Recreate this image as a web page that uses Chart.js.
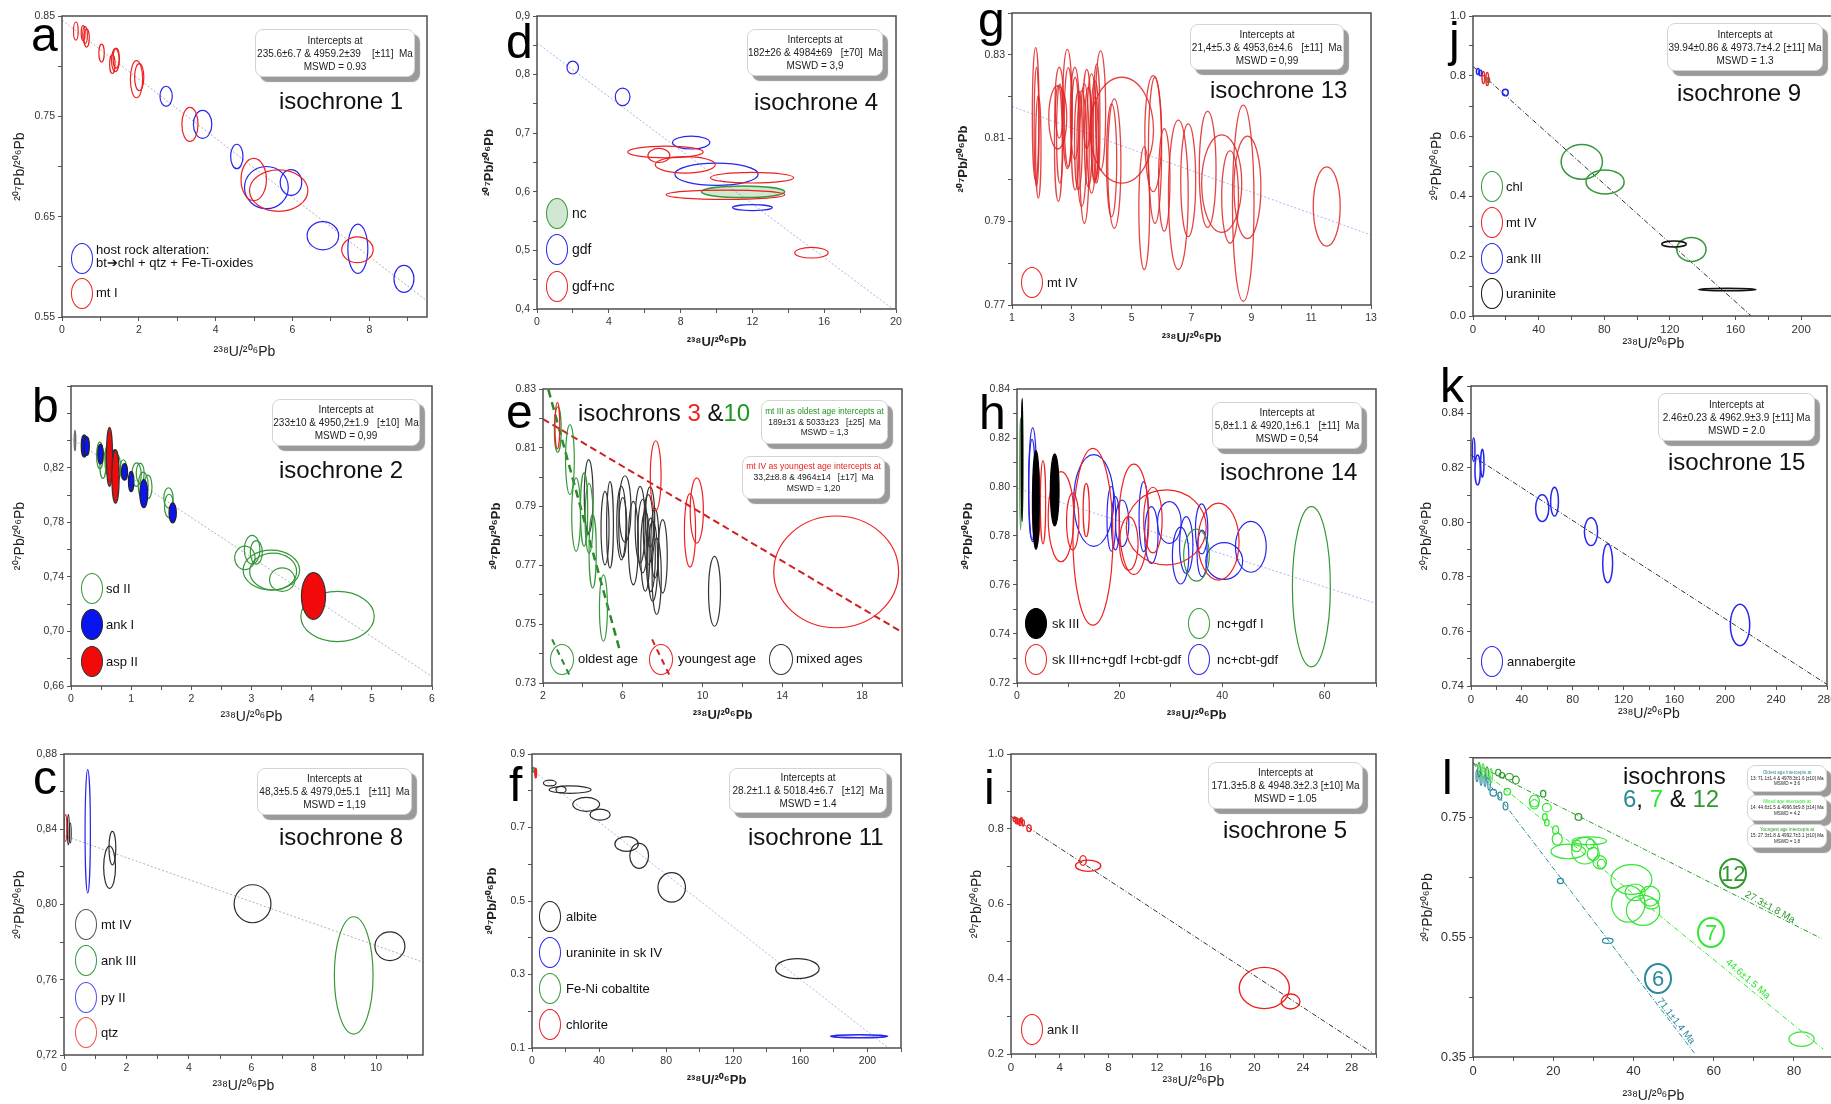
<!DOCTYPE html>
<html lang="en">
<head>
<meta charset="UTF-8">
<title>U-Pb isochrones</title>
<script src="https://cdn.jsdelivr.net/npm/chart.js"></script>
<style>
  html, body { margin: 0; padding: 0; background: #fff; overflow: hidden; }
  #page { position: relative; width: 1831px; height: 1104px; overflow: hidden; font-family: "Liberation Sans", Arial, sans-serif; color: #111; }
  #page canvas { position: absolute; }
  .lbl { position: absolute; white-space: pre; }
  .box { position: absolute; box-sizing: border-box; background: #fff; border: 1px solid #d4d4d4; border-radius: 8px;
         box-shadow: 5px 5px 1px #9a9a9a; text-align: center; color: #222; white-space: pre;
         display: flex; flex-direction: column; justify-content: center; }
  .leg { position: absolute; box-sizing: border-box; border-radius: 50%; }
</style>
</head>
<body>
<div id="page"></div>
<script>
// ---- data: [238U/206Pb, 207Pb/206Pb, error x, error y] ----
// a  isochrone 1
const a_host = [[2.71,0.770,0.16,0.0100],[3.66,0.742,0.24,0.0140],[4.55,0.710,0.16,0.0122],[5.32,0.679,0.57,0.0210],
  [5.96,0.684,0.28,0.0128],[6.79,0.631,0.41,0.0140],[7.70,0.618,0.26,0.0245],[8.90,0.588,0.26,0.0135]];
const a_mtI = [[0.36,0.835,0.06,0.0090],[0.55,0.833,0.05,0.0075],[0.60,0.831,0.06,0.0085],[0.64,0.828,0.07,0.0090],
  [1.03,0.813,0.07,0.0090],[1.31,0.802,0.07,0.0093],[1.39,0.806,0.10,0.0115],[1.41,0.808,0.08,0.0100],
  [1.94,0.787,0.16,0.0185],[2.01,0.789,0.12,0.0135],[3.33,0.742,0.21,0.0170],[4.99,0.687,0.33,0.0210],
  [5.64,0.676,0.76,0.0207],[7.69,0.617,0.41,0.0128]];
const a_iso = [[0,0.846],[9.5,0.566]];
// d  isochrone 4
const d_nc = [[11.48,0.600,2.32,0.010]];
const d_gdf = [[1.99,0.812,0.32,0.011],[4.77,0.762,0.41,0.015],[8.59,0.684,1.04,0.011],[10.0,0.630,2.32,0.019],[12.0,0.573,1.11,0.005]];
const d_gdfnc = [[7.16,0.668,2.10,0.010],[6.79,0.662,0.61,0.012],[8.26,0.646,1.67,0.014],[11.98,0.624,2.32,0.009],
  [10.50,0.595,3.30,0.008],[15.29,0.496,0.93,0.009]];
const d_iso = [[0,0.854],[20,0.396]];
// g  isochrone 13
const g_mtIV = [[1.79,0.8158,0.11,0.0159],[1.88,0.8079,0.09,0.0123],[1.82,0.8127,0.08,0.0143],[2.53,0.8150,0.30,0.0076],
  [2.55,0.8087,0.13,0.0139],[2.60,0.8111,0.11,0.0119],[2.58,0.8185,0.14,0.0085],[2.85,0.8170,0.16,0.0143],
  [2.88,0.8150,0.13,0.0119],[3.11,0.8111,0.13,0.0135],[3.10,0.8160,0.15,0.0110],[3.22,0.8095,0.13,0.0119],
  [3.33,0.8075,0.16,0.0139],[3.42,0.8063,0.16,0.0167],[3.50,0.8170,0.12,0.0095],[3.55,0.8103,0.13,0.0119],
  [3.66,0.8111,0.16,0.0143],[3.77,0.8119,0.13,0.0119],[3.83,0.8135,0.11,0.0143],[3.96,0.8166,0.17,0.0143],
  [3.77,0.8095,0.11,0.0103],[4.67,0.8119,1.06,0.0127],[4.33,0.8047,0.17,0.0135],[4.42,0.8039,0.22,0.0155],
  [5.42,0.7932,0.18,0.0147],[5.72,0.8111,0.28,0.0139],[5.78,0.8071,0.22,0.0175],[6.09,0.8000,0.19,0.0123],
  [6.56,0.7964,0.33,0.0179],[6.89,0.7999,0.25,0.0135],[7.54,0.8025,0.28,0.0139],[8.01,0.7991,0.67,0.0117],
  [8.29,0.7959,0.28,0.0111],[8.73,0.7944,0.36,0.0235],[8.87,0.7982,0.45,0.0123],[11.52,0.7936,0.45,0.0095]];
const g_iso = [[1,0.8176],[13,0.7868]];
// j  isochrone 9
const j_chl = [[66.3,0.514,12.6,0.058],[80.5,0.447,11.6,0.040],[133.1,0.222,8.9,0.040],[9.3,0.786,0.8,0.008]];
const j_mtIV = [[6.3,0.795,0.8,0.020],[8.7,0.790,0.8,0.022]];
const j_ank = [[19.7,0.745,1.8,0.011],[3.0,0.815,0.9,0.010],[4.5,0.810,0.9,0.009]];
const j_uran = [[122.5,0.240,7.5,0.010],[155.0,0.088,17.4,0.004]];
const j_iso = [[0,0.832],[169.6,0]];
// b  isochrone 2
const b_sd = [[0.48,0.829,0.055,0.0098],[0.53,0.822,0.05,0.0098],[0.62,0.826,0.055,0.0110],[0.76,0.820,0.066,0.0098],
  [0.87,0.819,0.055,0.0069],[1.09,0.815,0.077,0.0086],[1.15,0.816,0.066,0.0074],[1.20,0.807,0.083,0.0098],
  [1.28,0.806,0.066,0.0086],[1.62,0.798,0.077,0.0074],[1.63,0.792,0.077,0.0086],[2.89,0.754,0.17,0.0086],
  [3.01,0.760,0.13,0.0105],[3.08,0.758,0.10,0.0086],[3.33,0.745,0.47,0.0147],[3.36,0.744,0.39,0.0135],
  [3.51,0.738,0.21,0.0086],[4.43,0.711,0.61,0.0184]];
const b_ank = [[0.22,0.836,0.05,0.0081],[0.26,0.836,0.045,0.0069],[0.49,0.830,0.045,0.0074],[0.73,0.826,0.045,0.0074],
  [0.89,0.817,0.05,0.0061],[1.00,0.810,0.045,0.0074],[1.21,0.801,0.066,0.0103],[1.69,0.787,0.061,0.0074]];
const b_asp = [[0.64,0.828,0.05,0.0216],[0.74,0.8136,0.06,0.0196],[4.03,0.726,0.20,0.0172]];
const b_other = [[0.066,0.840,0.01,0.0075]];
const b_iso = [[0,0.8418],[6,0.667]];
// e  isochrons 3 & 10
const e_old = [[2.74,0.8162,0.17,0.0077],[3.35,0.8060,0.22,0.0119],[3.66,0.7873,0.22,0.0125],[4.06,0.7890,0.18,0.0125],
  [4.31,0.7860,0.20,0.0119],[4.49,0.7748,0.18,0.0125],[5.03,0.7555,0.20,0.0113]];
const e_young = [[2.72,0.8175,0.12,0.0079],[7.65,0.8005,0.27,0.0119],[9.37,0.7819,0.28,0.0125],[9.71,0.7887,0.33,0.0111],
  [16.70,0.7678,3.13,0.0190]];
const e_mixed = [[4.29,0.7935,0.22,0.0125],[5.11,0.7827,0.20,0.0125],[5.36,0.7838,0.17,0.0147],[5.93,0.7844,0.23,0.0125],
  [6.11,0.7892,0.30,0.0113],[6.00,0.7829,0.20,0.0102],[6.53,0.7776,0.25,0.0142],[6.87,0.7839,0.25,0.0130],
  [7.00,0.7800,0.25,0.0125],[7.13,0.7748,0.23,0.0136],[7.28,0.7822,0.25,0.0119],[7.40,0.7736,0.23,0.0125],
  [7.50,0.7714,0.25,0.0136],[7.61,0.7776,0.20,0.0119],[7.70,0.7663,0.23,0.0130],[7.37,0.7865,0.23,0.0102],
  [8.00,0.7731,0.23,0.0125],[10.60,0.7612,0.30,0.0119]];
const e_oldLine = [[2.27,0.8298],[5.86,0.7408]];
const e_youngLine = [[2.0,0.8198],[20.0,0.7473]];
// h  isochrone 14
const h_cbt = [[3.06,0.8009,0.78,0.0232],[2.93,0.7989,0.65,0.0205],[14.96,0.7945,3.9,0.0187],[18.4,0.7870,0.85,0.0132],
  [19.2,0.7852,0.78,0.0109],[20.5,0.7852,1.3,0.0095],[24.7,0.7879,0.9,0.0143],[26.2,0.7804,1.3,0.0116],
  [29.7,0.7855,2.3,0.0085],[31.9,0.7720,1.6,0.0116],[33.0,0.7763,1.3,0.0116],[36.0,0.7829,1.2,0.0102],
  [36.1,0.7729,1.0,0.0095],[40.4,0.7698,3.6,0.0075],[45.6,0.7756,3.0,0.0104]];
const h_mix = [[3.77,0.7934,0.78,0.0170],[5.07,0.7938,0.52,0.0170],[8.58,0.7879,2.5,0.0184],[10.86,0.7859,1.2,0.0116],
  [13.5,0.7906,0.6,0.0109],[14.8,0.7797,3.9,0.0361],[22.8,0.7868,2.9,0.0225],[21.8,0.7770,1.8,0.0109],
  [26.5,0.7865,1.8,0.0134],[29.1,0.7835,7.8,0.0153],[39.3,0.7777,4.0,0.0157]];
const h_ncgdf = [[35.0,0.7722,2.5,0.0106],[57.4,0.7593,3.7,0.0327],[0.7,0.8053,0.12,0.0229]];
const h_sk = [[3.70,0.7947,0.65,0.0202],[7.35,0.7988,0.85,0.0147],[1.0,0.8110,0.15,0.0252]];
const h_iso = [[0,0.7995],[70,0.7525]];
// k  isochrone 15
const k_ann = [[2.1,0.8266,1.0,0.0043],[5.2,0.8192,2.1,0.0055],[8.9,0.8217,1.3,0.0051],[56.0,0.8052,5.2,0.0049],
  [65.7,0.8076,3.1,0.0053],[94.4,0.7966,5.2,0.0051],[107.5,0.7850,3.9,0.0071],[211.6,0.7624,7.6,0.0076]];
const k_iso = [[0,0.8247],[280,0.7406]];
// c  isochrone 8
const c_mtIV = [[0.14,0.8398,0.03,0.0080],[0.20,0.8380,0.03,0.0053],[1.55,0.8300,0.11,0.0089],[1.46,0.8198,0.19,0.0112],
  [6.04,0.8004,0.59,0.0101],[10.44,0.7778,0.48,0.0076]];
const c_ank = [[9.28,0.7623,0.62,0.0312]];
const c_py = [[0.76,0.8389,0.085,0.0328]];
const c_qtz = [[0.05,0.8407,0.04,0.0071]];
const c_iso = [[0,0.8366],[11.5,0.7694]];
// f  isochrone 11
const f_albite = [[10.6,0.821,3.8,0.008],[17.3,0.803,3.0,0.009],[22.7,0.803,12.5,0.010],[32.3,0.763,8.0,0.019],
  [40.6,0.735,6.0,0.015],[56.4,0.655,7.0,0.020],[63.9,0.623,5.6,0.034],[83.3,0.537,8.2,0.040],[158.2,0.316,13.0,0.027]];
const f_uran = [[195.0,0.132,17.0,0.004]];
const f_cob = [[0.8,0.857,0.6,0.006]];
const f_chl = [[2.2,0.848,0.4,0.013]];
const f_iso = [[0,0.857],[212.5,0.1]];
// i  isochrone 5
const i_ank = [[0.30,0.826,0.12,0.006],[0.45,0.822,0.10,0.008],[0.60,0.820,0.12,0.007],[0.75,0.818,0.10,0.009],
  [0.85,0.823,0.08,0.007],[1.00,0.816,0.10,0.008],[1.48,0.802,0.18,0.009],[5.92,0.716,0.27,0.013],
  [6.34,0.702,1.04,0.015],[20.82,0.376,2.06,0.055],[22.98,0.340,0.77,0.020]];
const i_iso = [[0,0.834],[29.65,0.2044]];
// l  isochrons 6, 7 & 12
const l_6 = [[5.07,0.7916,0.83,0.0055],[6.70,0.7861,0.50,0.0066],[8.10,0.7695,0.58,0.0066],[21.8,0.6440,0.75,0.0044],
  [33.6,0.5443,1.33,0.0044],[1.0,0.820,0.25,0.010],[2.0,0.815,0.25,0.011],[3.0,0.812,0.25,0.010],[4.0,0.806,0.30,0.010]];
const l_7 = [[8.55,0.7933,0.83,0.0055],[15.3,0.7778,1.25,0.0100],[15.3,0.7722,1.1,0.0078],[18.4,0.7667,1.1,0.0072],
  [17.9,0.7511,0.58,0.0055],[18.4,0.7417,0.58,0.0055],[20.6,0.7295,0.75,0.0066],[21.0,0.7140,1.25,0.0100],
  [23.75,0.6935,4.3,0.0122],[25.8,0.7030,1.25,0.0100],[29.0,0.7113,4.3,0.0066],[27.9,0.6947,3.3,0.0222],
  [29.2,0.7058,1.0,0.0083],[30.0,0.6891,1.5,0.0111],[31.6,0.6753,1.66,0.0111],[32.0,0.6725,1.0,0.0083],
  [39.5,0.6466,5.1,0.0250],[38.7,0.6058,4.15,0.0305],[40.4,0.6252,2.5,0.0139],[42.4,0.5950,4.15,0.0250],
  [44.1,0.6188,2.5,0.0166],[44.5,0.6058,1.83,0.0083],[81.9,0.3799,3.15,0.0122],[2.5,0.828,0.3,0.012],[4.5,0.820,0.3,0.012]];
const l_12 = [[6.3,0.8254,0.66,0.0055],[7.2,0.8210,0.66,0.0044],[9.05,0.8183,1.0,0.0055],[10.7,0.8128,0.83,0.0066],
  [17.5,0.7900,0.66,0.0055],[26.3,0.7511,0.83,0.0055],[1.5,0.830,0.3,0.012],[3.5,0.825,0.3,0.010]];
const l_line6 = [[0,0.8414],[55.3,0.3556]];
const l_line7 = [[0,0.8414],[87.3,0.3633]];
const l_line12 = [[0,0.8414],[86.9,0.5478]];

const FONT = '"Liberation Sans", Arial, sans-serif';
const RED = '#ee2020', BLUE = '#2626ee', GREEN = '#36983a', BLACK = '#2a2a2a';
const TEAL = '#2a8a9a', LIME = '#33e633', DKGREEN = '#2e9a2e';
Chart.defaults.font.family = FONT;

const page = document.getElementById('page');

// error ellipses drawn through the chart's own scales
const ELLIPSES = {
  id: 'ellipses',
  afterDatasetsDraw(chart) {
    const {ctx, chartArea: ca, scales: {x, y}} = chart;
    ctx.save();
    ctx.beginPath();
    ctx.rect(ca.left, ca.top, ca.right - ca.left, ca.bottom - ca.top);
    ctx.clip();
    chart.data.datasets.forEach(ds => {
      if (!ds.ellipse) return;
      ds.data.forEach(d => {
        const cx = x.getPixelForValue(d.x), cy = y.getPixelForValue(d.y);
        const rx = Math.max(Math.abs(x.getPixelForValue(d.x + d.ex) - cx), 0.8);
        const ry = Math.max(Math.abs(y.getPixelForValue(d.y + d.ey) - cy), 0.8);
        ctx.beginPath();
        ctx.ellipse(cx, cy, rx, ry, 0, 0, Math.PI * 2);
        if (ds.ellFill) { ctx.fillStyle = ds.ellFill; ctx.fill(); }
        ctx.lineWidth = ds.ellWidth || 1.2;
        ctx.strokeStyle = ds.ellStroke;
        ctx.stroke();
      });
    });
    ctx.restore();
  }
};

const FRAME = {
  id: 'frame',
  afterDraw(chart) {
    const {ctx, chartArea: a} = chart;
    ctx.save();
    ctx.strokeStyle = '#4d4d4d';
    ctx.lineWidth = 1.5;
    ctx.strokeRect(a.left, a.top, a.right - a.left, a.bottom - a.top);
    ctx.restore();
  }
};

const ell = (rows, stroke, opt) => Object.assign({
  data: rows.map(r => ({x: r[0], y: r[1], ex: r[2], ey: r[3]})),
  ellipse: true, ellStroke: stroke, pointRadius: 0, pointHoverRadius: 0, showLine: false
}, opt || {});
const iso = (rows, color, dash, width) => ({
  data: rows.map(r => ({x: r[0], y: r[1]})),
  showLine: true, pointRadius: 0, pointHoverRadius: 0, borderColor: color,
  borderWidth: width || 1, borderDash: dash, fill: false
});
const DOT = [2, 2], DASHDOT = [5, 2, 1, 2];

function fmt(v, a) {
  const start = a.start !== undefined ? a.start : a.min;
  const k = (v - start) / a.major;
  if (Math.abs(k - Math.round(k)) > 1e-4) return '';
  if (a.last !== undefined && v > a.last + 1e-9) return '';
  const s = v.toFixed(a.dec || 0);
  return a.comma ? s.replace('.', ',') : s;
}

function panel(p) {
  const [L, T, R, B] = p.area;
  const tf = p.bold ? {size: 13, weight: 'bold'} : {size: 14};
  const half = tf.size * 0.6;
  const YW = Math.round(p.yOff + half), XH = Math.round(p.xOff + half);
  const PT = 10, PR = 18;
  const w = (R - L) + YW + PR, h = (B - T) + PT + XH;
  const cv = document.createElement('canvas');
  cv.width = w; cv.height = h;
  Object.assign(cv.style, {left: (L - YW) + 'px', top: (T - PT) + 'px', width: w + 'px', height: h + 'px'});
  page.appendChild(cv);
  const axis = (a, isX) => ({
    type: 'linear', min: a.min, max: a.max,
    border: {display: false},
    grid: {drawOnChartArea: false, drawTicks: true, tickLength: 4, color: '#555'},
    afterBuildTicks: s => {
      const t = [];
      for (let i = 0; ; i++) {
        const v = +(a.min + i * a.step).toFixed(6);
        if (v > a.max + 1e-9) break;
        t.push({value: v});
      }
      s.ticks = t;
    },
    ticks: {autoSkip: false, maxRotation: 0, padding: 3, color: '#333', font: {size: p.tick || 10.5}, callback: v => fmt(v, a)},
    title: {display: true, text: isX ? '²³⁸U/²⁰⁶Pb' : '²⁰⁷Pb/²⁰⁶Pb', color: '#222', font: tf, padding: 0},
    afterFit: s => { if (isX) s.height = XH; else s.width = YW; }
  });
  new Chart(cv, {
    type: 'scatter',
    data: {datasets: p.sets},
    options: {
      responsive: false, animation: false, devicePixelRatio: 1, events: [],
      layout: {padding: {top: PT, right: PR, left: 0, bottom: 0}},
      plugins: {legend: {display: false}, tooltip: {enabled: false}},
      scales: {x: axis(p.x, true), y: axis(p.y, false)}
    },
    plugins: [ELLIPSES, FRAME]
  });
}

// ---- panels ----
panel({area: [62, 16, 427, 317], yOff: 42, xOff: 36,
  x: {min: 0, max: 9.5, step: 1, major: 2}, y: {min: 0.55, max: 0.85, step: 0.05, major: 0.1, dec: 2},
  sets: [iso(a_iso, '#b0b0b0', DOT), ell(a_host, BLUE), ell(a_mtI, RED)]});
panel({area: [537, 16, 896, 309], yOff: 47, xOff: 33, bold: true,
  x: {min: 0, max: 20, step: 2, major: 4}, y: {min: 0.4, max: 0.9, step: 0.05, major: 0.1, dec: 1, comma: true},
  sets: [iso(d_iso, '#a6aef0', DOT), ell(d_nc, GREEN, {ellFill: 'rgba(70,160,70,0.25)', ellWidth: 1.6}),
         ell(d_gdf, BLUE), ell(d_gdfnc, RED)]});
panel({area: [1012, 13, 1371, 305], yOff: 48, xOff: 33, bold: true,
  x: {min: 1, max: 13, step: 1, major: 2}, y: {min: 0.77, max: 0.84, step: 0.01, major: 0.02, dec: 2},
  sets: [iso(g_iso, '#aab4f0', DOT), ell(g_mtIV, 'rgba(225,35,35,0.85)', {ellWidth: 1.3})]});
panel({area: [1473, 16, 1834, 316], yOff: 36, xOff: 29, tick: 11.5,
  x: {min: 0, max: 220, step: 20, major: 40}, y: {min: 0, max: 1, step: 0.1, major: 0.2, dec: 1},
  sets: [iso(j_iso, '#333', DASHDOT), ell(j_chl, GREEN, {ellWidth: 1.5}), ell(j_mtIV, RED, {ellWidth: 1.5}),
         ell(j_ank, BLUE, {ellWidth: 1.5}), ell(j_uran, '#111', {ellWidth: 1.6})]});
panel({area: [71, 386, 432, 686], yOff: 51, xOff: 32,
  x: {min: 0, max: 6, step: 0.5, major: 1}, y: {min: 0.66, max: 0.88, step: 0.02, major: 0.04, dec: 2, comma: true, last: 0.84},
  sets: [iso(b_iso, '#b0b0b0', DOT), ell(b_other, '#555'), ell(b_sd, GREEN),
         ell(b_ank, '#222', {ellFill: '#0a14ee'}), ell(b_asp, '#333', {ellFill: '#f20a0a'})]});
panel({area: [543, 389, 902, 683], yOff: 46, xOff: 32, bold: true,
  x: {min: 2, max: 20, step: 2, major: 4}, y: {min: 0.73, max: 0.83, step: 0.01, major: 0.02, dec: 2},
  sets: [iso(e_oldLine, '#2a8a2a', [8, 5], 2.5), iso(e_youngLine, '#d02020', [7, 4], 2),
         ell(e_mixed, '#333'), ell(e_old, GREEN), ell(e_young, RED)]});
panel({area: [1017, 389, 1376, 683], yOff: 48, xOff: 32, bold: true,
  x: {min: 0, max: 70, step: 10, major: 20}, y: {min: 0.72, max: 0.84, step: 0.01, major: 0.02, dec: 2},
  sets: [iso(h_iso, '#aab4f0', DOT), ell(h_cbt, BLUE), ell(h_mix, RED), ell(h_ncgdf, GREEN),
         ell(h_sk, '#000', {ellFill: '#000'})]});
panel({area: [1471, 386, 1827, 686], yOff: 44, xOff: 29, tick: 11.5,
  x: {min: 0, max: 280, step: 20, major: 40}, y: {min: 0.74, max: 0.85, step: 0.01, major: 0.02, dec: 2},
  sets: [iso(k_iso, '#333', DASHDOT), ell(k_ann, BLUE, {ellWidth: 1.5})]});
panel({area: [64, 754, 423, 1055], yOff: 44, xOff: 32,
  x: {min: 0, max: 11.5, step: 1, major: 2}, y: {min: 0.72, max: 0.88, step: 0.02, major: 0.04, dec: 2, comma: true},
  sets: [iso(c_iso, '#b0b0b0', DOT), ell(c_mtIV, BLACK), ell(c_ank, GREEN), ell(c_py, BLUE), ell(c_qtz, RED)]});
panel({area: [532, 754, 901, 1048], yOff: 39, xOff: 32, bold: true,
  x: {min: 0, max: 220, step: 20, major: 40}, y: {min: 0.1, max: 0.9, step: 0.1, major: 0.2, dec: 1},
  sets: [iso(f_iso, '#aab4f0', DOT), ell(f_albite, BLACK), ell(f_uran, BLUE, {ellWidth: 1.6}),
         ell(f_cob, GREEN, {ellWidth: 1.6}), ell(f_chl, RED, {ellWidth: 1.6})]});
panel({area: [1011, 754, 1376, 1054], yOff: 34, xOff: 29, tick: 11.5,
  x: {min: 0, max: 30, step: 2, major: 4}, y: {min: 0.2, max: 1.0, step: 0.1, major: 0.2, dec: 1},
  sets: [iso(i_iso, '#333', DASHDOT), ell(i_ank, RED, {ellWidth: 1.4})]});
panel({area: [1473, 757, 1834, 1057], yOff: 45, xOff: 40, tick: 13,
  x: {min: 0, max: 90, step: 10, major: 20}, y: {min: 0.35, max: 0.85, step: 0.1, major: 0.2, dec: 2},
  sets: [iso(l_line6, TEAL, DASHDOT), iso(l_line7, LIME, DASHDOT), iso(l_line12, DKGREEN, DASHDOT),
         ell(l_12, DKGREEN), ell(l_6, TEAL), ell(l_7, LIME)]});

// ---- text and legend overlays ----
function put(html, x, base, size, style) {
  const d = document.createElement('div');
  d.className = 'lbl';
  Object.assign(d.style, {left: x + 'px', top: (base - 0.85 * size) + 'px', fontSize: size + 'px', lineHeight: size + 'px'}, style || {});
  d.innerHTML = html;
  page.appendChild(d);
  return d;
}
function infoBox(x1, y1, x2, y2, lines, size, firstColor) {
  const d = document.createElement('div');
  d.className = 'box';
  Object.assign(d.style, {left: x1 + 'px', top: y1 + 'px', width: (x2 - x1) + 'px', height: (y2 - y1) + 'px',
    fontSize: size + 'px', lineHeight: (size * 1.3) + 'px'});
  lines.forEach((t, i) => {
    const r = document.createElement('div');
    r.textContent = t;
    if (i === 0 && firstColor) r.style.color = firstColor;
    d.appendChild(r);
  });
  page.appendChild(d);
}
function legEll(cx, cy, stroke, fill, w, h, bw) {
  w = w || 22; h = h || 31;
  const d = document.createElement('div');
  d.className = 'leg';
  Object.assign(d.style, {left: (cx - w / 2) + 'px', top: (cy - h / 2) + 'px', width: w + 'px', height: h + 'px',
    border: (bw || 1.5) + 'px solid ' + stroke, background: fill || 'transparent'});
  page.appendChild(d);
}
function legend(cx, tx, items, size) {
  items.forEach(([label, cy, stroke, fill]) => {
    legEll(cx, cy, stroke, fill);
    put(label, tx, cy + 0.35 * size, size);
  });
}
function dashSeg(x1, y1, x2, y2, color, w) {
  const d = document.createElement('div');
  const len = Math.hypot(x2 - x1, y2 - y1), ang = Math.atan2(y2 - y1, x2 - x1) * 180 / Math.PI;
  Object.assign(d.style, {position: 'absolute', left: x1 + 'px', top: y1 + 'px', width: len + 'px', height: '0',
    borderTop: w + 'px dashed ' + color, transformOrigin: '0 0', transform: 'rotate(' + ang + 'deg)'});
  page.appendChild(d);
}
function rotLabel(t, cx, cy, deg, color, size) {
  put(t, cx, cy, size, {top: cy + 'px', color: color, transform: 'translate(-50%,-50%) rotate(' + deg + 'deg)'});
}
function circled(t, cx, cy, color) {
  const d = document.createElement('div');
  Object.assign(d.style, {position: 'absolute', boxSizing: 'border-box', left: (cx - 14) + 'px', top: (cy - 15.5) + 'px',
    width: '28px', height: '31px', border: '2px solid ' + color, borderRadius: '50%', color: color,
    fontSize: '22px', lineHeight: '27px', textAlign: 'center'});
  d.textContent = t;
  page.appendChild(d);
}

// panel letters
[['a', 31, 52], ['d', 506, 59], ['g', 978, 37], ['j', 1449, 57], ['b', 32, 423], ['e', 506, 429],
 ['h', 979, 430], ['k', 1440, 403], ['c', 33, 795], ['f', 509, 802], ['i', 984, 805], ['l', 1442, 795]]
  .forEach(([t, x, b]) => put(t, x, b, 48, {color: '#000'}));

// isochrone titles
[['isochrone 1', 279, 109], ['isochrone 4', 754, 110], ['isochrone 13', 1210, 98], ['isochrone 9', 1677, 101],
 ['isochrone 2', 279, 478], ['isochrone 14', 1220, 480], ['isochrone 15', 1668, 470], ['isochrone 8', 279, 845],
 ['isochrone 11', 748, 845], ['isochrone 5', 1223, 838]]
  .forEach(([t, x, b]) => put(t, x, b, 24));
put('isochrons <span style="color:#ee2020">3</span> &amp;<span style="color:#1f961f">10</span>', 578, 421, 24);
put('isochrons', 1623, 784, 24);
put('<span style="color:' + TEAL + '">6</span>, <span style="color:' + LIME + '">7</span> &amp; <span style="color:' + DKGREEN + '">12</span>', 1623, 807, 24);

// intercept boxes
infoBox(255, 29, 415, 77, ['Intercepts at', '235.6±6.7 & 4959.2±39    [±11]  Ma', 'MSWD = 0.93'], 10);
infoBox(747, 29, 883, 76, ['Intercepts at', '182±26 & 4984±69   [±70]  Ma', 'MSWD = 3,9'], 10);
infoBox(1190, 24, 1344, 70, ['Intercepts at', '21,4±5.3 & 4953,6±4.6   [±11]  Ma', 'MSWD = 0,99'], 10);
infoBox(1667, 23, 1823, 71, ['Intercepts at', '39.94±0.86 & 4973.7±4.2 [±11] Ma', 'MSWD = 1.3'], 10);
infoBox(272, 399, 420, 446, ['Intercepts at', '233±10 & 4950,2±1.9   [±10]  Ma', 'MSWD = 0,99'], 10);
infoBox(761, 400, 888, 444, ['mt III as oldest age intercepts at', '189±31 & 5033±23   [±25]  Ma', 'MSWD = 1,3'], 8.4, '#1f961f');
infoBox(742, 456, 885, 499, ['mt IV as youngest age intercepts at', '33,2±8.8 & 4964±14   [±17]  Ma', 'MSWD = 1,20'], 8.6, '#e82020');
infoBox(1212, 402, 1362, 449, ['Intercepts at', '5,8±1.1 & 4920,1±6.1   [±11]  Ma', 'MSWD = 0,54'], 10);
infoBox(1658, 393, 1815, 441, ['Intercepts at', '2.46±0.23 & 4962.9±3.9 [±11] Ma', 'MSWD = 2.0'], 10);
infoBox(257, 768, 412, 815, ['Intercepts at', '48,3±5.5 & 4979,0±5.1   [±11]  Ma', 'MSWD = 1,19'], 10);
infoBox(729, 768, 887, 813, ['Intercepts at', '28.2±1.1 & 5018.4±6.7   [±12]  Ma', 'MSWD = 1.4'], 10);
infoBox(1208, 762, 1363, 809, ['Intercepts at', '171.3±5.8 & 4948.3±2.3 [±10] Ma', 'MSWD = 1.05'], 10);
infoBox(1747, 765, 1827, 792, ['Oldest age intercepts at', '13: 71.1±1.4 & 4978.3±1.6 [±10] Ma', 'MSWD = 3.6'], 4.6, TEAL);
infoBox(1747, 795, 1827, 821, ['Mixed age intercepts at', '14: 44.6±1.5 & 4996.9±9.8 [±14] Ma', 'MSWD = 4.2'], 4.6, LIME);
infoBox(1747, 824, 1827, 848, ['Youngest age intercepts at', '15: 27.3±1.8 & 4992.7±3.1 [±10] Ma', 'MSWD = 1.8'], 4.6, DKGREEN);

// legends
legEll(82, 258, BLUE); put('host rock alteration:', 96, 254.5, 13); put('bt➔chl + qtz + Fe-Ti-oxides', 96, 267, 13);
legEll(82, 293, RED); put('mt I', 96, 297.5, 13);
legend(557, 572, [['nc', 213, GREEN, 'rgba(70,160,70,0.25)'], ['gdf', 249, BLUE], ['gdf+nc', 286, RED]], 14);
legend(1032, 1047, [['mt IV', 282, RED]], 13);
legend(1492, 1506, [['chl', 186, GREEN], ['mt IV', 222, RED], ['ank III', 258, BLUE], ['uraninite', 293, '#111']], 13);
legend(92, 106, [['sd II', 588, GREEN], ['ank I', 624, '#222', '#0a14ee'], ['asp II', 661, '#333', '#f20a0a']], 13);
legEll(562, 659, GREEN, null, 24, 31); dashSeg(553, 639, 570, 674, '#2a8a2a', 2); put('oldest age', 578, 663.5, 13);
legEll(661, 659, RED, null, 24, 31); dashSeg(653, 639, 670, 674, '#d02020', 2); put('youngest age', 678, 663.5, 13);
legEll(781, 659, '#333', null, 24, 31); put('mixed ages', 796, 663.5, 13);
legend(1036, 1052, [['sk III', 623, '#000', '#000'], ['sk III+nc+gdf I+cbt-gdf', 659, RED]], 13);
legend(1199, 1217, [['nc+gdf I', 623, GREEN], ['nc+cbt-gdf', 659, BLUE]], 13);
legend(1492, 1507, [['annabergite', 661, BLUE]], 13);
legend(86, 101, [['mt IV', 924, '#555'], ['ank III', 960, GREEN], ['py II', 997, '#5050f0'], ['qtz', 1032, '#f05050']], 13);
legend(550, 566, [['albite', 916, '#222'], ['uraninite in sk IV', 952, BLUE], ['Fe-Ni cobaltite', 988, GREEN], ['chlorite', 1024, RED]], 13);
legend(1032, 1047, [['ank II', 1029, RED]], 13);

// panel l line labels
circled('12', 1733, 873, DKGREEN);
circled('7', 1711, 932, LIME);
circled('6', 1658, 978, TEAL);
rotLabel('27.3±1.8 Ma', 1770, 907, 29, DKGREEN, 10);
rotLabel('44.6±1.5 Ma', 1748, 979, 41, LIME, 10);
rotLabel('71.1±1.4 Ma', 1676, 1021, 52, TEAL, 10);
</script>
</body>
</html>
